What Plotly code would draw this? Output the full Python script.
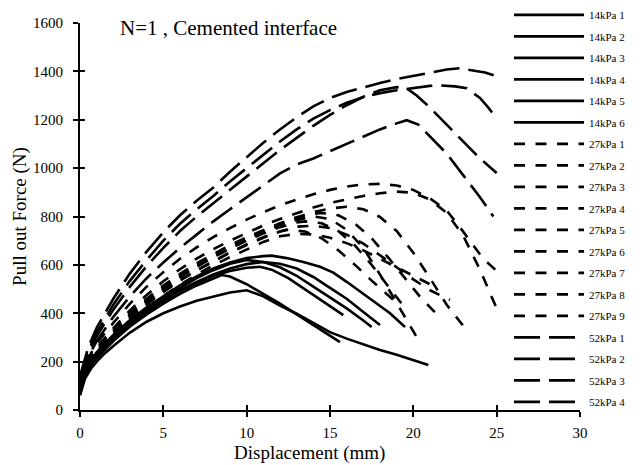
import plotly.graph_objects as go

# ---------------- data ----------------
# 14 kPa (solid)
s1_x = [0, 0.3, 0.7, 1, 1.5, 2, 3, 4, 5, 6, 7, 8, 9, 10, 11, 12, 13, 14, 15, 16, 17, 18, 19, 20, 20.9]
s1_y = [60, 130, 175, 200, 235, 265, 320, 365, 400, 428, 452, 470, 486, 495, 470, 432, 398, 360, 322, 295, 270, 248, 228, 205, 186]
s2_x = [0, 0.3, 0.7, 1, 1.5, 2, 3, 4, 5, 6, 7, 8, 8.5, 9, 10, 11, 12, 13, 14, 15, 15.6]
s2_y = [70, 140, 190, 215, 250, 285, 345, 395, 440, 480, 515, 545, 558, 552, 520, 480, 440, 395, 350, 305, 281]
s3_x = [0, 0.3, 0.7, 1, 1.5, 2, 3, 4, 5, 6, 7, 8, 9, 10, 10.8, 11.5, 12.5, 13.5, 14.5, 15.2, 15.8]
s3_y = [80, 150, 200, 225, 262, 295, 355, 405, 450, 492, 525, 555, 575, 588, 592, 580, 545, 500, 455, 420, 392]
s4_x = [0, 0.3, 0.7, 1, 1.5, 2, 3, 4, 5, 6, 7, 8, 9, 10, 11, 12, 13, 14, 15, 16, 17, 17.5]
s4_y = [90, 160, 205, 232, 270, 305, 365, 418, 462, 505, 545, 578, 605, 620, 612, 590, 555, 510, 465, 420, 370, 343]
s5_x = [0, 0.3, 0.7, 1, 1.5, 2, 3, 4, 5, 6, 7, 8, 9, 10, 11, 12, 13, 14, 15, 16, 17, 18]
s5_y = [85, 155, 200, 228, 265, 300, 360, 412, 455, 495, 530, 560, 585, 603, 612, 605, 585, 550, 505, 460, 405, 351]
s6_x = [0, 0.3, 0.7, 1, 1.5, 2, 3, 4, 5, 6, 7, 8, 9, 10, 11, 11.5, 12.4, 13.4, 14.4, 15.2, 16, 16.8, 17.8, 18.6, 19.5]
s6_y = [95, 165, 210, 238, 275, 310, 372, 425, 470, 515, 552, 585, 610, 628, 636, 638, 628, 612, 592, 568, 530, 490, 442, 400, 343]

# 27 kPa (short dash)
d1_x = [0, 0.5, 1, 2, 3, 4, 5, 6, 7, 8, 9, 10, 11, 12, 13, 14, 15, 16, 17, 18, 19, 20, 21, 22, 22.8, 23.6, 24.2, 25]
d1_y = [120, 215, 275, 360, 440, 510, 570, 625, 672, 715, 752, 787, 818, 846, 870, 892, 910, 924, 933, 935, 928, 910, 875, 825, 755, 680, 625, 575]
d2_x = [0, 0.5, 1, 2, 3, 4, 5, 6, 7, 8, 9, 10, 11, 12, 13, 14, 15, 16, 17, 18, 19, 20, 21, 22, 23, 24, 25]
d2_y = [110, 200, 258, 338, 412, 476, 532, 582, 626, 665, 700, 733, 763, 790, 815, 837, 856, 872, 885, 896, 903, 898, 870, 815, 720, 580, 420]
d3_x = [0, 0.5, 1, 2, 3, 4, 5, 6, 7, 8, 9, 10, 11, 12, 13, 14, 15, 16, 17, 18, 19, 20, 21, 22, 23.2]
d3_y = [105, 195, 250, 330, 400, 460, 515, 563, 607, 646, 682, 714, 744, 772, 797, 818, 833, 840, 830, 798, 740, 650, 545, 435, 330]
d4_x = [0, 0.5, 1, 2, 3, 4, 5, 6, 7, 8, 9, 10, 11, 12, 13, 14, 14.5, 15.5, 16.5, 17.5, 18.5, 19.5, 20.5, 21.5]
d4_y = [100, 190, 245, 325, 395, 455, 508, 556, 600, 640, 676, 710, 740, 768, 792, 810, 815, 805, 770, 710, 630, 545, 460, 390]
d5_x = [0, 0.5, 1, 2, 3, 4, 5, 6, 7, 8, 9, 10, 11, 12, 13, 14, 15, 16, 17, 18, 19, 20.2]
d5_y = [95, 185, 240, 318, 388, 448, 500, 548, 592, 632, 668, 702, 735, 762, 785, 800, 790, 745, 670, 560, 440, 302]
d6_x = [0, 0.5, 1, 2, 3, 4, 5, 6, 7, 8, 9, 10, 11, 12, 13, 13.5, 14.5, 15.5, 16.5, 17.5, 18.5, 19.6]
d6_y = [100, 188, 242, 320, 390, 450, 502, 550, 593, 632, 668, 700, 730, 756, 775, 780, 772, 740, 680, 600, 510, 413]
d7_x = [0, 0.5, 1, 2, 3, 4, 5, 6, 7, 8, 9, 10, 11, 12, 13, 14, 15, 16, 17, 18, 19, 20, 21, 22.2]
d7_y = [90, 178, 232, 310, 378, 436, 488, 535, 577, 615, 650, 682, 712, 738, 758, 762, 752, 725, 688, 640, 590, 540, 495, 455]
d8_x = [0, 0.5, 1, 2, 3, 4, 5, 6, 7, 8, 9, 10, 11, 12, 12.5, 13.5, 14.5, 15.5, 16.5, 17.5, 18.8]
d8_y = [95, 182, 236, 312, 380, 438, 490, 536, 578, 616, 652, 685, 714, 738, 745, 738, 710, 660, 600, 535, 455]
d9_x = [0, 0.5, 1, 2, 3, 4, 5, 6, 7, 8, 9, 10, 11, 12, 13, 14, 15, 16, 17, 18, 19, 20, 21]
d9_y = [85, 170, 225, 300, 366, 422, 472, 518, 560, 598, 632, 665, 695, 718, 728, 726, 712, 690, 660, 625, 590, 555, 520]

# 52 kPa (long dash)
l1_x = [0, 0.5, 1, 2, 3, 4, 5, 6, 7, 8, 9, 10, 11, 12, 13, 14, 15, 16, 17, 18, 19, 20, 21, 22, 22.8, 23.5, 24.3, 25]
l1_y = [140, 260, 340, 460, 565, 655, 735, 805, 865, 920, 985, 1045, 1105, 1160, 1210, 1255, 1290, 1315, 1335, 1352, 1368, 1382, 1397, 1408, 1413, 1405, 1395, 1380]
l2_x = [0, 0.5, 1, 2, 3, 4, 5, 6, 7, 8, 9, 10, 11, 12, 13, 14, 15, 16, 17, 18, 19, 20, 21, 21.5, 22.5, 23.2, 24, 24.5, 25]
l2_y = [130, 245, 320, 435, 535, 620, 700, 770, 830, 885, 945, 1000, 1055, 1110, 1160, 1205, 1240, 1270, 1293, 1310, 1322, 1332, 1340, 1342, 1338, 1330, 1290, 1250, 1205]
l3_x = [0, 0.5, 1, 2, 3, 4, 5, 6, 7, 8, 9, 10, 11, 12, 13, 14, 15, 16, 17, 18, 19, 19.6, 20.2, 21, 22, 23, 24, 25]
l3_y = [125, 235, 305, 415, 510, 595, 670, 740, 800, 855, 910, 965, 1020, 1075, 1125, 1175, 1220, 1260, 1295, 1322, 1335, 1330, 1300, 1250, 1180, 1110, 1040, 980]
l4_x = [0, 0.5, 1, 2, 3, 4, 5, 6, 7, 8, 9, 10, 11, 12, 13, 14, 15, 16, 17, 18, 19, 19.6, 20.3, 21, 22, 23, 24, 24.8]
l4_y = [115, 220, 285, 385, 470, 545, 610, 670, 725, 780, 830, 880, 930, 978, 1015, 1040, 1070, 1100, 1130, 1160, 1185, 1198, 1180, 1130, 1060, 970, 880, 800]

names_14 = ["14kPa 1", "14kPa 2", "14kPa 3", "14kPa 4", "14kPa 5", "14kPa 6"]
names_27 = ["27kPa 1", "27kPa 2", "27kPa 3", "27kPa 4", "27kPa 5", "27kPa 6", "27kPa 7", "27kPa 8", "27kPa 9"]
names_52 = ["52kPa 1", "52kPa 2", "52kPa 3", "52kPa 4"]

x_ticks = [0, 5, 10, 15, 20, 25, 30]
y_ticks = [0, 200, 400, 600, 800, 1000, 1200, 1400, 1600]

# ---------------- figure ----------------
series_14 = [(s1_x, s1_y), (s2_x, s2_y), (s3_x, s3_y), (s4_x, s4_y), (s5_x, s5_y), (s6_x, s6_y)]
series_27 = [(d1_x, d1_y), (d2_x, d2_y), (d3_x, d3_y), (d4_x, d4_y), (d5_x, d5_y),
             (d6_x, d6_y), (d7_x, d7_y), (d8_x, d8_y), (d9_x, d9_y)]
series_52 = [(l1_x, l1_y), (l2_x, l2_y), (l3_x, l3_y), (l4_x, l4_y)]

FONT = "Liberation Serif"
W, H = 642, 465
L, R, T, B = 80, 62, 0, 30          # paper area; axes are placed inside it via domains
GH = H - T - B                       # 435
Y_TOP_PX = 23                        # y axis top (1600)
Y_BOT_PX = 410                       # x axis line (0)


def px_x(p):
    return (p - L) / (W - L - R)


def px_y(p):
    return (H - B - p) / GH


fig = go.Figure()

groups = [(names_14, series_14, "solid"),
          (names_27, series_27, "11px,10.5px"),
          (names_52, series_52, "26px,9px")]
for names, series, dash in groups:
    for name, (xs, ys) in zip(names, series):
        fig.add_trace(go.Scatter(
            x=xs, y=ys, mode="lines", name=name, legendgroup=name,
            line=dict(color="black", width=2.6, dash=dash),
        ))

# empty trace so the overlay axes (inner half of crossing ticks) are drawn
fig.add_trace(go.Scatter(x=[None], y=[None], xaxis="x2", yaxis="y2", showlegend=False,
                         hoverinfo="skip", mode="lines"))

ydom = [px_y(Y_BOT_PX), px_y(Y_TOP_PX)]
axis_common = dict(showgrid=False, zeroline=False, color="black",
                   tickfont=dict(family=FONT, size=15, color="black"))

fig.update_layout(
    width=W, height=H,
    margin=dict(l=L, r=R, t=T, b=B, autoexpand=False),
    plot_bgcolor="white", paper_bgcolor="white",
    font=dict(family=FONT, color="black"),
    xaxis=dict(range=[0, 30], tickvals=x_ticks, showline=True, linewidth=1.8, linecolor="black",
               ticks="outside", ticklen=5, tickwidth=1.6, tickcolor="black",
               ticklabelstandoff=3, **axis_common),
    yaxis=dict(range=[0, 1600], tickvals=y_ticks, domain=ydom, showline=True, linewidth=1.8,
               linecolor="black", ticks="outside", ticklen=5, tickwidth=1.6, tickcolor="black",
               ticklabelstandoff=7,
               title=dict(text="Pull out Force (N)", font=dict(family=FONT, size=19), standoff=1),
               **axis_common),
    xaxis2=dict(range=[0, 30], tickvals=x_ticks, overlaying="x", anchor="y2", side="bottom",
                showline=False, showgrid=False, zeroline=False, ticks="inside", ticklen=5,
                tickwidth=1.6, tickcolor="black", showticklabels=False),
    yaxis2=dict(range=[0, 1600], tickvals=y_ticks, domain=ydom, overlaying="y", anchor="x2",
                side="left", showline=False, showgrid=False, zeroline=False, ticks="inside",
                ticklen=5, tickwidth=1.6, tickcolor="black", showticklabels=False),
    legend=dict(x=px_x(509), xanchor="left", y=1 - 0.4 / GH, yanchor="top",
                font=dict(family=FONT, size=11, color="black"), itemwidth=70,
                tracegroupgap=2.5, bgcolor="rgba(0,0,0,0)"),
    annotations=[
        dict(text="N=1 , Cemented interface", xref="paper", yref="paper",
             x=px_x(118), y=px_y(28), xanchor="left", yanchor="middle",
             showarrow=False, font=dict(family=FONT, size=21, color="black")),
        dict(text="Displacement (mm)", xref="paper", yref="paper",
             x=px_x(309), y=px_y(453), xanchor="center", yanchor="middle",
             showarrow=False, font=dict(family=FONT, size=19, color="black")),
    ],
    showlegend=True,
)

fig.write_html("out.html")
